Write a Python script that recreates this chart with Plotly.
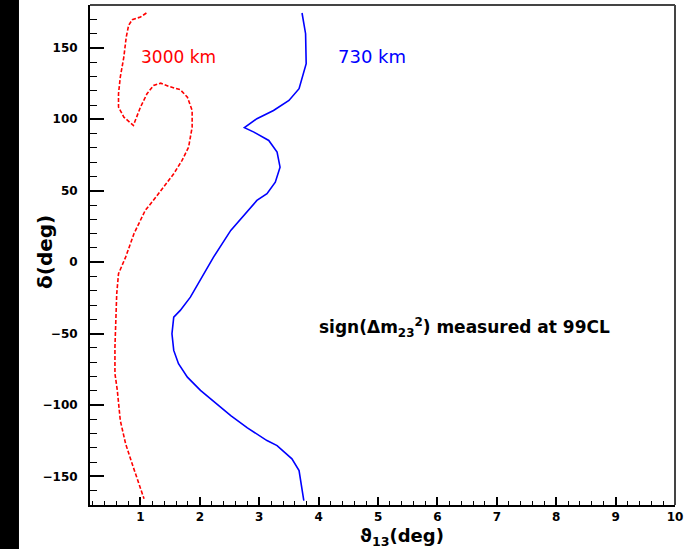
import plotly.graph_objects as go

# 3000 km contour (red, dashed)
theta_3000 = [1.10, 1.00, 0.86, 0.80, 0.76, 0.72, 0.66, 0.63, 0.63, 0.72, 0.88,
              1.00, 1.11, 1.22, 1.34, 1.48, 1.67, 1.79, 1.87, 1.87, 1.81, 1.70,
              1.56, 1.40, 1.25, 1.08, 0.89, 0.75, 0.63, 0.60, 0.58, 0.57, 0.57,
              0.61, 0.66, 0.75, 0.86, 0.97, 1.06]
delta_3000 = [174.4, 171.6, 169.7, 165.7, 157.5, 143.6, 129.5, 117.9, 108.5, 101.5, 95.7,
              108.5, 117.9, 123.7, 125.3, 123.0, 120.7, 115.5, 106.2, 94.5, 80.5, 71.2,
              61.9, 53.0, 45.0, 36.2, 19.9, 3.5, -8.1, -22.1, -40.8, -59.5, -78.0,
              -89.8, -110.8, -127.2, -141.2, -155.2, -165.7]

# 730 km contour (blue, solid)
theta_730 = [3.72, 3.78, 3.79, 3.72, 3.67, 3.50, 3.24, 2.96, 2.75, 2.91, 3.16, 3.30,
             3.35, 3.27, 3.13, 2.96, 2.52, 2.23, 2.01, 1.84, 1.67, 1.56, 1.53, 1.56,
             1.64, 1.79, 2.01, 2.29, 2.52, 2.80, 3.13, 3.30, 3.55, 3.67, 3.72, 3.75]
delta_730 = [174.4, 159.9, 138.9, 129.5, 121.4, 113.2, 106.2, 100.4, 94.1, 91.0, 85.2, 77.0,
             66.5, 56.0, 47.9, 43.2, 22.2, 3.5, -12.8, -24.5, -33.8, -38.5, -50.1, -61.8,
             -71.1, -80.5, -89.8, -99.2, -107.4, -116.0, -124.9, -128.4, -137.7, -145.9, -157.6, -166.9]

x_ticks = [1, 2, 3, 4, 5, 6, 7, 8, 9, 10]
y_ticks = [-150, -100, -50, 0, 50, 100, 150]
y_ticklabels = ["\u2212150", "\u2212100", "\u221250", "0", "50", "100", "150"]

fig = go.Figure()
fig.add_trace(go.Scatter(x=theta_3000, y=delta_3000, mode="lines",
                         line=dict(color="#ff0000", width=1.6, dash="4px,2px"),
                         showlegend=False))
fig.add_trace(go.Scatter(x=theta_730, y=delta_730, mode="lines",
                         line=dict(color="#0000ff", width=1.6),
                         showlegend=False))

tickfont = dict(family="DejaVu Sans", size=12, color="black", weight="bold")

fig.update_layout(
    width=690, height=549,
    margin=dict(l=90, r=15, t=5, b=44),
    paper_bgcolor="white", plot_bgcolor="white",
    xaxis=dict(range=[0.15, 10], tickvals=x_ticks, ticks="inside", ticklen=8,
               tickwidth=1.5, tickcolor="black", showgrid=False, zeroline=False,
               showline=True, linecolor="black", linewidth=2, tickfont=tickfont,
               ticklabelstandoff=0,
               minor=dict(dtick=0.2, tick0=0, ticks="inside", ticklen=4,
                          tickcolor="black", tickwidth=1.2, showgrid=False)),
    yaxis=dict(range=[-170, 180], tickvals=y_ticks, ticktext=y_ticklabels,
               ticks="inside", ticklen=14, tickwidth=1.5, tickcolor="black",
               showgrid=False, zeroline=False, showline=True, linecolor="black",
               linewidth=2, tickfont=tickfont, ticklabelstandoff=8,
               minor=dict(dtick=10, tick0=0, ticks="inside", ticklen=7,
                          tickcolor="black", tickwidth=1.2, showgrid=False)),
    shapes=[
        dict(type="rect", xref="paper", yref="paper", x0=-0.16, x1=-0.1214,
             y0=-0.2, y1=1.1, fillcolor="black", line=dict(width=0), layer="above"),
        dict(type="line", xref="paper", yref="paper", x0=0, x1=1, y0=1, y1=1,
             line=dict(color="#444444", width=2)),
        dict(type="line", xref="paper", yref="paper", x0=1, x1=1, y0=0, y1=1,
             line=dict(color="#444444", width=2)),
    ],
    annotations=[
        dict(text="3000 km", x=139, y=57, showarrow=False, xanchor="left", yanchor="middle",
             font=dict(family="DejaVu Sans", size=17, color="#ff0000")),
        dict(text="730 km", x=336, y=57, showarrow=False, xanchor="left", yanchor="middle",
             font=dict(family="DejaVu Sans", size=18, color="#0000ff")),
        dict(text="sign(\u0394m<sub>23</sub><sup>2</sup>) measured at 99CL", x=317, y=327,
             showarrow=False, xanchor="left", yanchor="middle",
             font=dict(family="DejaVu Sans", size=17, color="black", weight="bold")),
        dict(text="\u03b4(deg)", x=45, y=252, showarrow=False, textangle=-90,
             xanchor="center", yanchor="middle",
             font=dict(family="DejaVu Sans", size=20, color="black", weight="bold")),
        dict(text="\u03d1<sub>13</sub>(deg)", x=402, y=537, showarrow=False,
             xanchor="center", yanchor="middle",
             font=dict(family="DejaVu Sans", size=18, color="black", weight="bold")),
    ],
)

# convert pixel positions of annotations to paper coordinates
W, H = 690, 549
l, r, t, b = 90, 15, 5, 44
pw, ph = W - l - r, H - t - b
for a in fig.layout.annotations:
    px, py = a.x, a.y
    a.xref = "paper"
    a.yref = "paper"
    a.x = (px - l) / pw
    a.y = (H - b - py) / ph

fig.write_html("out.html")
